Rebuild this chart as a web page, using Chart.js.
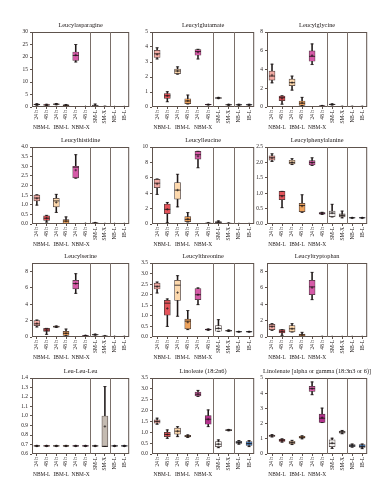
<!DOCTYPE html>
<html>
<head>
<meta charset="utf-8">
<script src="https://cdn.jsdelivr.net/npm/chart.js@4.4.1/dist/chart.umd.min.js"></script>
<style>
    html, body { margin: 0; padding: 0; background: #fff; }
    body { position: relative; width: 392px; height: 500px; overflow: hidden; }
    canvas { position: absolute; }
</style>
</head>
<body>
<script>
"use strict";

const CATEGORIES = ['24 h', '48 h', '24 h', '48 h', '24 h', '48 h', 'SM-L', 'SM-X', 'NB-L', 'IB-L'];
const GROUPS = ['NBM-L', 'IBM-L', 'NBM-X'];
const BOX_COLORS = ['#f3aba4', '#e4535a', '#fcd8ad', '#eea35c', '#d65aa8', '#b3338d',
    '#f4f2f0', '#c4bbb2', '#a3c8e2', '#4d87c6'];

// each row: [min, q1, median, q3, max, mean], one row per category
const LEUCYLASPARAGINE = [
    [0.7, 0.85, 1.0, 1.15, 1.3, 1.0],
    [0.5, 0.7, 0.8, 0.95, 1.1, 0.8],
    [0.9, 1.0, 1.1, 1.25, 1.4, 1.1],
    [0.4, 0.55, 0.7, 0.85, 0.95, 0.7],
    [18.0, 18.6, 20.6, 22.0, 25.0, 20.8],
    [0.05, 0.08, 0.1, 0.12, 0.15, 0.1],
    [0.2, 0.35, 0.5, 0.8, 1.2, 0.55],
    [0.1, 0.15, 0.2, 0.25, 0.3, 0.2],
    [0.03, 0.04, 0.05, 0.06, 0.07, 0.05],
    [0.03, 0.04, 0.05, 0.06, 0.07, 0.05]
];
const LEUCYLGLUTAMATE = [
    [3.2, 3.3, 3.55, 3.78, 3.95, 3.5],
    [0.35, 0.58, 0.75, 0.9, 1.02, 0.75],
    [2.19, 2.23, 2.4, 2.52, 2.68, 2.4],
    [0.2, 0.22, 0.4, 0.55, 0.8, 0.42],
    [3.2, 3.45, 3.7, 3.83, 3.85, 3.65],
    [0.14, 0.15, 0.16, 0.17, 0.18, 0.16],
    [0.56, 0.57, 0.6, 0.62, 0.64, 0.6],
    [0.12, 0.14, 0.15, 0.16, 0.18, 0.15],
    [0.12, 0.14, 0.15, 0.16, 0.18, 0.15],
    [0.12, 0.14, 0.15, 0.16, 0.18, 0.15]
];
const LEUCYLGLYCINE = [
    [2.58, 2.87, 3.3, 3.82, 4.57, 3.4],
    [0.3, 0.67, 1.0, 1.17, 1.2, 0.9],
    [1.8, 2.27, 2.6, 2.97, 3.3, 2.6],
    [0.14, 0.18, 0.4, 0.64, 1.03, 0.45],
    [4.53, 4.88, 5.4, 5.98, 6.73, 5.5],
    [0.08, 0.09, 0.1, 0.12, 0.14, 0.1],
    [0.22, 0.24, 0.27, 0.3, 0.33, 0.27],
    [0.03, 0.04, 0.05, 0.06, 0.07, 0.05],
    [0.03, 0.04, 0.05, 0.06, 0.07, 0.05],
    [0.03, 0.04, 0.05, 0.06, 0.07, 0.05]
];
const LEUCYLHISTIDINE = [
    [0.98, 1.2, 1.35, 1.5, 1.52, 1.33],
    [0.1, 0.19, 0.3, 0.42, 0.45, 0.3],
    [0.6, 0.89, 1.2, 1.33, 1.54, 1.12],
    [0.02, 0.03, 0.15, 0.23, 0.37, 0.15],
    [2.38, 2.4, 2.95, 3.0, 3.6, 2.8],
    [0.01, 0.015, 0.02, 0.025, 0.03, 0.02],
    [0.03, 0.04, 0.05, 0.06, 0.07, 0.05],
    [0.005, 0.008, 0.01, 0.012, 0.015, 0.01],
    [0.005, 0.008, 0.01, 0.012, 0.015, 0.01],
    [0.005, 0.008, 0.01, 0.012, 0.015, 0.01]
];
const LEUCYLLEUCINE = [
    [3.84, 4.72, 5.3, 5.8, 5.85, 5.2],
    [0.17, 1.35, 1.9, 2.58, 2.8, 1.9],
    [2.23, 3.23, 4.4, 5.37, 6.46, 4.4],
    [0.26, 0.3, 0.6, 0.96, 1.48, 0.65],
    [7.3, 8.43, 9.0, 9.43, 9.45, 8.8],
    [0.05, 0.07, 0.1, 0.12, 0.15, 0.1],
    [0.08, 0.12, 0.2, 0.3, 0.4, 0.22],
    [0.04, 0.06, 0.08, 0.1, 0.12, 0.08],
    [0.01, 0.015, 0.02, 0.025, 0.03, 0.02],
    [0.01, 0.015, 0.02, 0.025, 0.03, 0.02]
];
const LEUCYLPHENYLALANINE = [
    [2.03, 2.07, 2.15, 2.21, 2.28, 2.14],
    [0.53, 0.79, 0.92, 1.06, 1.06, 0.9],
    [1.93, 1.95, 2.0, 2.07, 2.12, 2.0],
    [0.38, 0.4, 0.6, 0.67, 0.95, 0.58],
    [1.9, 1.92, 2.0, 2.06, 2.15, 1.99],
    [0.31, 0.32, 0.35, 0.37, 0.38, 0.35],
    [0.23, 0.24, 0.35, 0.42, 0.64, 0.36],
    [0.2, 0.23, 0.28, 0.33, 0.42, 0.29],
    [0.19, 0.195, 0.2, 0.205, 0.21, 0.2],
    [0.19, 0.195, 0.2, 0.205, 0.21, 0.2]
];
const LEUCYLSERINE = [
    [1.22, 1.38, 1.6, 1.99, 2.07, 1.65],
    [0.32, 0.69, 0.85, 1.05, 1.05, 0.82],
    [1.18, 1.2, 1.25, 1.32, 1.34, 1.25],
    [0.15, 0.2, 0.45, 0.69, 0.97, 0.45],
    [5.31, 5.84, 6.5, 6.89, 7.7, 6.5],
    [0.1, 0.12, 0.15, 0.17, 0.2, 0.15],
    [0.24, 0.26, 0.28, 0.31, 0.34, 0.28],
    [0.07, 0.08, 0.1, 0.11, 0.13, 0.1],
    [0.03, 0.04, 0.05, 0.06, 0.07, 0.05],
    [0.03, 0.04, 0.05, 0.06, 0.07, 0.05]
];
const LEUCYLTHREONINE = [
    [2.08, 2.27, 2.4, 2.55, 2.6, 2.38],
    [0.5, 1.03, 1.6, 1.73, 1.8, 1.35],
    [0.98, 1.73, 2.45, 2.68, 2.9, 2.1],
    [0.35, 0.38, 0.75, 0.85, 1.25, 0.7],
    [1.53, 1.77, 2.0, 2.29, 2.32, 2.0],
    [0.32, 0.33, 0.35, 0.37, 0.38, 0.35],
    [0.27, 0.27, 0.4, 0.54, 0.82, 0.42],
    [0.27, 0.28, 0.3, 0.32, 0.33, 0.3],
    [0.24, 0.245, 0.25, 0.255, 0.26, 0.25],
    [0.24, 0.245, 0.25, 0.255, 0.26, 0.25]
];
const LEUCYLTRYPTOPHAN = [
    [0.81, 0.89, 1.3, 1.54, 1.62, 1.25],
    [0.2, 0.49, 0.7, 0.89, 0.89, 0.65],
    [0.61, 0.61, 1.0, 1.38, 1.62, 1.0],
    [0.08, 0.08, 0.25, 0.36, 0.57, 0.25],
    [4.54, 5.15, 6.1, 6.89, 7.86, 6.0],
    [0.03, 0.04, 0.05, 0.06, 0.07, 0.05],
    [0.02, 0.025, 0.03, 0.035, 0.04, 0.03],
    [0.02, 0.025, 0.03, 0.035, 0.04, 0.03],
    [0.02, 0.025, 0.03, 0.035, 0.04, 0.03],
    [0.02, 0.025, 0.03, 0.035, 0.04, 0.03]
];
const LEU_LEU_LEU = [
    [0.68, 0.682, 0.685, 0.688, 0.69, 0.685],
    [0.68, 0.682, 0.685, 0.688, 0.69, 0.685],
    [0.68, 0.682, 0.685, 0.688, 0.69, 0.685],
    [0.68, 0.682, 0.685, 0.688, 0.69, 0.685],
    [0.68, 0.682, 0.685, 0.688, 0.69, 0.685],
    [0.68, 0.682, 0.685, 0.688, 0.69, 0.685],
    [0.68, 0.682, 0.685, 0.688, 0.69, 0.685],
    [0.68, 0.68, 0.68, 1.0, 1.31, 0.89],
    [0.68, 0.682, 0.685, 0.688, 0.69, 0.685],
    [0.68, 0.682, 0.685, 0.688, 0.69, 0.685]
];
const LINOLEATE = [
    [1.37, 1.42, 1.5, 1.57, 1.65, 1.5],
    [0.72, 0.8, 0.9, 1.0, 1.11, 0.9],
    [0.8, 0.91, 1.05, 1.19, 1.26, 1.05],
    [0.76, 0.79, 0.82, 0.86, 0.88, 0.82],
    [2.65, 2.68, 2.75, 2.85, 2.93, 2.77],
    [1.26, 1.37, 1.6, 1.77, 2.03, 1.6],
    [0.29, 0.34, 0.45, 0.57, 0.65, 0.46],
    [1.07, 1.08, 1.1, 1.12, 1.13, 1.1],
    [0.45, 0.49, 0.53, 0.58, 0.62, 0.53],
    [0.34, 0.39, 0.48, 0.57, 0.62, 0.48]
];
const LINOLENATE = [
    [1.12, 1.15, 1.2, 1.24, 1.27, 1.2],
    [0.78, 0.82, 0.9, 0.97, 1.0, 0.9],
    [0.62, 0.66, 0.75, 0.84, 0.9, 0.75],
    [1.0, 1.04, 1.1, 1.17, 1.2, 1.1],
    [3.9, 4.12, 4.3, 4.45, 4.74, 4.3],
    [2.07, 2.07, 2.35, 2.62, 3.02, 2.4],
    [0.37, 0.48, 0.7, 0.93, 1.04, 0.72],
    [1.33, 1.37, 1.45, 1.5, 1.55, 1.45],
    [0.45, 0.48, 0.55, 0.62, 0.66, 0.55],
    [0.35, 0.44, 0.5, 0.62, 0.66, 0.5]
];

const TITLES = ['Leucylasparagine', 'Leucylglutamate', 'Leucylglycine',
    'Leucylhistidine', 'Leucylleucine', 'Leucylphenylalanine',
    'Leucylserine', 'Leucylthreonine', 'Leucyltryptophan',
    'Leu-Leu-Leu', 'Linoleate (18:2n6)', 'Linolenate [alpha or gamma (18:3n3 or 6)]'];
// y axis: [min, max, step, decimals]
const Y_AXES = [[0, 30, 5, 0], [0, 5, 1, 0], [0, 8, 1, 0],
    [0, 4, 0.5, 1], [0, 10, 1, 0], [0, 2.5, 0.5, 1],
    [0, 9, 1, 0], [0, 3.5, 0.5, 1], [0, 9, 1, 0],
    [0.6, 1.4, 0.1, 1], [0, 3.5, 0.5, 1], [0, 5, 1, 0]];
const PANELS = [LEUCYLASPARAGINE, LEUCYLGLUTAMATE, LEUCYLGLYCINE,
    LEUCYLHISTIDINE, LEUCYLLEUCINE, LEUCYLPHENYLALANINE,
    LEUCYLSERINE, LEUCYLTHREONINE, LEUCYLTRYPTOPHAN,
    LEU_LEU_LEU, LINOLEATE, LINOLENATE];

// plot area edges on the page
const COLS = [[32, 131], [152, 256], [267, 369]];
const ROWS = [[32, 107], [147, 224], [263, 337], [378, 454]];
const PAD_TOP = 14, AXIS_W = 30, AXIS_H = 30;

const FONT = "'Liberation Serif', 'DejaVu Serif', serif";
const INK = '#1e1818', FRAME = '#5e534d';

const panelDecor = {
    id: 'panelDecor',
    afterDraw(chart, args, opts) {
        const {ctx, chartArea: a, scales: {x}} = chart;
        ctx.save();
        ctx.strokeStyle = FRAME;
        ctx.lineWidth = 1;
        ctx.strokeRect(a.left + 0.5, a.top + 0.5, a.width - 1, a.height - 1);

        ctx.strokeStyle = '#7a6f69';
        [5, 7].forEach(i => {
            const sx = Math.round((x.getPixelForValue(i) + x.getPixelForValue(i + 1)) / 2) + 0.5;
            ctx.beginPath();
            ctx.moveTo(sx, a.top);
            ctx.lineTo(sx, a.bottom);
            ctx.stroke();
        });

        ctx.fillStyle = INK;
        ctx.textAlign = 'center';
        ctx.textBaseline = 'alphabetic';
        ctx.font = '6.3px ' + FONT;
        ctx.fillText(opts.title, (a.left + a.right) / 2, a.top - 5);

        ctx.font = '5.4px ' + FONT;
        ctx.textBaseline = 'middle';
        GROUPS.forEach((g, i) => {
            const gx = (x.getPixelForValue(2 * i) + x.getPixelForValue(2 * i + 1)) / 2;
            ctx.fillText(g, gx, a.bottom + 21);
        });
        ctx.restore();
    }
};

function pointSet(values, style, radius, width, order) {
    return {
        type: 'line', data: values, showLine: false, fill: false,
        pointStyle: style, pointRadius: radius, pointHoverRadius: radius,
        pointBorderColor: INK, pointBackgroundColor: INK, pointBorderWidth: width,
        order: order
    };
}

function makePanel(idx) {
    const rows = PANELS[idx],
        [yMin, yMax, step, dec] = Y_AXES[idx],
        [left, right] = COLS[idx % 3],
        [top, bottom] = ROWS[Math.floor(idx / 3)];

    const cnv = document.createElement('canvas');
    cnv.width = right - left + AXIS_W + 2;
    cnv.height = bottom - top + PAD_TOP + AXIS_H;
    cnv.style.left = (left - AXIS_W) + 'px';
    cnv.style.top = (top - PAD_TOP) + 'px';
    document.body.appendChild(cnv);

    new Chart(cnv.getContext('2d'), {
        type: 'bar',
        data: {
            labels: CATEGORIES,
            datasets: [
                {
                    data: rows.map(r => [r[0], r[4]]), backgroundColor: INK,
                    barThickness: 0.9, grouped: false, order: 5
                },
                {
                    data: rows.map(r => [r[1], r[3]]), backgroundColor: BOX_COLORS,
                    borderColor: '#453a3a', borderWidth: 0.7, borderSkipped: false,
                    barThickness: 6, grouped: false, order: 4
                },
                pointSet(rows.map(r => r[2]), 'line', 3, 0.8, 3),
                pointSet(rows.map(r => r[0]), 'line', 1.6, 0.8, 2),
                pointSet(rows.map(r => r[4]), 'line', 1.6, 0.8, 2),
                pointSet(rows.map(r => r[5]), 'cross', 1.3, 0.6, 1)
            ]
        },
        options: {
            responsive: false,
            animation: false,
            devicePixelRatio: 1,
            events: [],
            layout: {padding: {top: PAD_TOP, right: 2, left: 0, bottom: 0}},
            plugins: {
                legend: {display: false},
                tooltip: {enabled: false},
                panelDecor: {title: TITLES[idx]}
            },
            scales: {
                x: {
                    type: 'category',
                    offset: true,
                    grid: {drawOnChartArea: false, offset: false, tickLength: 2, color: FRAME},
                    border: {display: false},
                    ticks: {
                        autoSkip: false, minRotation: 90, maxRotation: 90, padding: 1,
                        color: INK, font: {family: FONT, size: 5.4}
                    },
                    afterFit(s) { s.height = AXIS_H; }
                },
                y: {
                    type: 'linear', min: yMin, max: yMax,
                    grid: {drawOnChartArea: false, tickLength: 2, color: FRAME},
                    border: {display: false},
                    ticks: {
                        stepSize: step, padding: 2, color: INK,
                        font: {family: FONT, size: 5.4},
                        callback: v => Number(v).toFixed(dec)
                    },
                    afterFit(s) { s.width = AXIS_W; }
                }
            }
        },
        plugins: [panelDecor]
    });
}

PANELS.forEach((p, i) => makePanel(i));
</script>
</body>
</html>
